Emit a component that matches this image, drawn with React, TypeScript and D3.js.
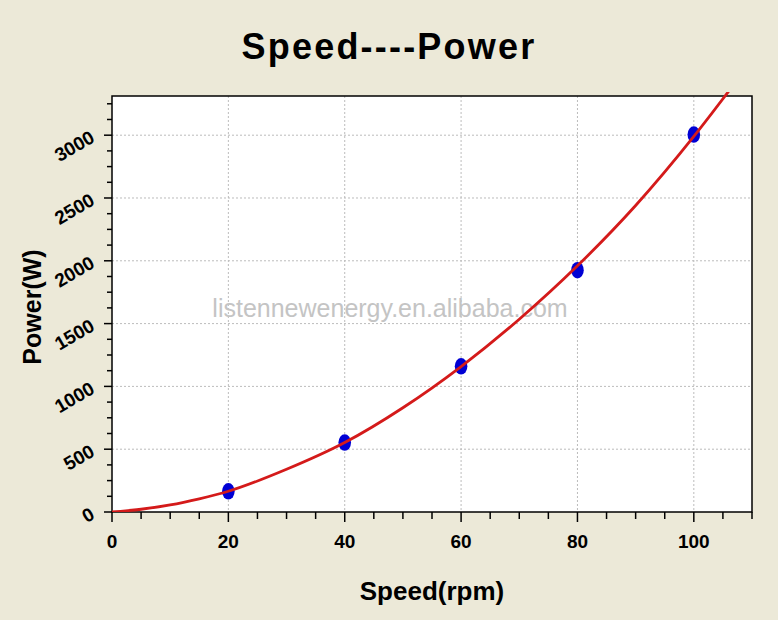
import React from "react";
import * as d3 from "d3";

const title = "Speed----Power";
const xLabel = "Speed(rpm)";
const yLabel = "Power(W)";
const watermark = "listennewenergy.en.alibaba.com";

const speeds = [20, 40, 60, 80, 100];
const powers = [165, 553, 1160, 1925, 3005];

const curveSpeeds = [0, 5, 10, 15, 20, 30, 40, 50, 60, 70, 80, 90, 100, 106];
const curvePowers = [0, 22, 56, 105, 165, 340, 553, 830, 1158, 1535, 1960, 2440, 2990, 3350];

const xTicks = [0, 20, 40, 60, 80, 100];
const yTicks = [0, 500, 1000, 1500, 2000, 2500, 3000];

const W = 778;
const H = 620;
const FONT = "Arial, 'Liberation Sans', sans-serif";

export default function App() {
  const left = 112, right = 752, top = 96, bottom = 512;
  const x = d3.scaleLinear().domain([0, 110]).range([left, right]);
  const y = d3.scaleLinear().domain([0, 3312]).range([bottom, top]);

  const minorX = d3.range(0, 110.01, 5);
  const minorY = d3.range(0, 3312, 125);

  const line = d3
    .line<number>()
    .x((_, i) => x(curveSpeeds[i]))
    .y((_, i) => y(curvePowers[i]))
    .curve(d3.curveMonotoneX);

  return (
    <svg
      width={W}
      height={H}
      style={{ position: "absolute", left: 0, top: 0, display: "block" }}
      fontFamily={FONT}
    >
      <rect x={0} y={0} width={W} height={H} fill="#ECE9D8" />
      <text x={389} y={59} textAnchor="middle" fontSize={36} fontWeight="bold" letterSpacing={2.2} fill="#000">
        {title}
      </text>
      <defs>
        <clipPath id="plotclip">
          <rect x={left} y={top - 4} width={right - left} height={bottom - top + 4} />
        </clipPath>
      </defs>
      <rect x={left} y={top} width={right - left} height={bottom - top} fill="#fff" />
      {/* gridlines */}
      {yTicks.filter((t) => t > 0).map((t) => (
        <line key={"gy" + t} x1={left} x2={right} y1={y(t)} y2={y(t)} stroke="#bcbcbc" strokeWidth={1} strokeDasharray="2,2" />
      ))}
      {xTicks.filter((t) => t > 0).map((t) => (
        <line key={"gx" + t} x1={x(t)} x2={x(t)} y1={top} y2={bottom} stroke="#bcbcbc" strokeWidth={1} strokeDasharray="2,2" />
      ))}
      <text x={390} y={317} textAnchor="middle" fontSize={25} fill="#c4c4c4">
        {watermark}
      </text>
      {/* frame */}
      <rect x={left} y={top} width={right - left} height={bottom - top} fill="none" stroke="#000" strokeWidth={1.5} />
      {/* x ticks */}
      {minorX.map((t) => (
        <line key={"tx" + t} x1={x(t)} x2={x(t)} y1={bottom} y2={bottom + (t % 20 === 0 ? 10 : 7)} stroke="#000" strokeWidth={1.5} />
      ))}
      {xTicks.map((t) => (
        <text key={"lx" + t} x={x(t)} y={548} textAnchor="middle" fontSize={19} fontWeight="bold" fill="#000">
          {t}
        </text>
      ))}
      {/* y ticks */}
      {minorY.map((t) => (
        <line key={"ty" + t} x1={left} x2={left - (t % 500 === 0 ? 8 : 5)} y1={y(t)} y2={y(t)} stroke="#000" strokeWidth={1.5} />
      ))}
      {yTicks.map((t) => (
        <text
          key={"ly" + t}
          transform={`translate(${96},${y(t) + 6}) rotate(-30)`}
          textAnchor="end"
          fontSize={19}
          fontWeight="bold"
          fill="#000"
        >
          {t}
        </text>
      ))}
      {/* data points */}
      {speeds.map((s, i) => (
        <ellipse key={"p" + s} cx={x(s)} cy={y(powers[i])} rx={6.3} ry={8.3} fill="#0000d4" />
      ))}
      {/* fitted curve */}
      <g clipPath="url(#plotclip)">
        <path d={line(curvePowers) || ""} fill="none" stroke="#d41a1a" strokeWidth={2.8} />
      </g>
      <text x={432} y={600} textAnchor="middle" fontSize={26} fontWeight="bold" fill="#000">
        {xLabel}
      </text>
      <text transform={`translate(41,307) rotate(-90)`} textAnchor="middle" fontSize={25} fontWeight="bold" fill="#000">
        {yLabel}
      </text>
    </svg>
  );
}
